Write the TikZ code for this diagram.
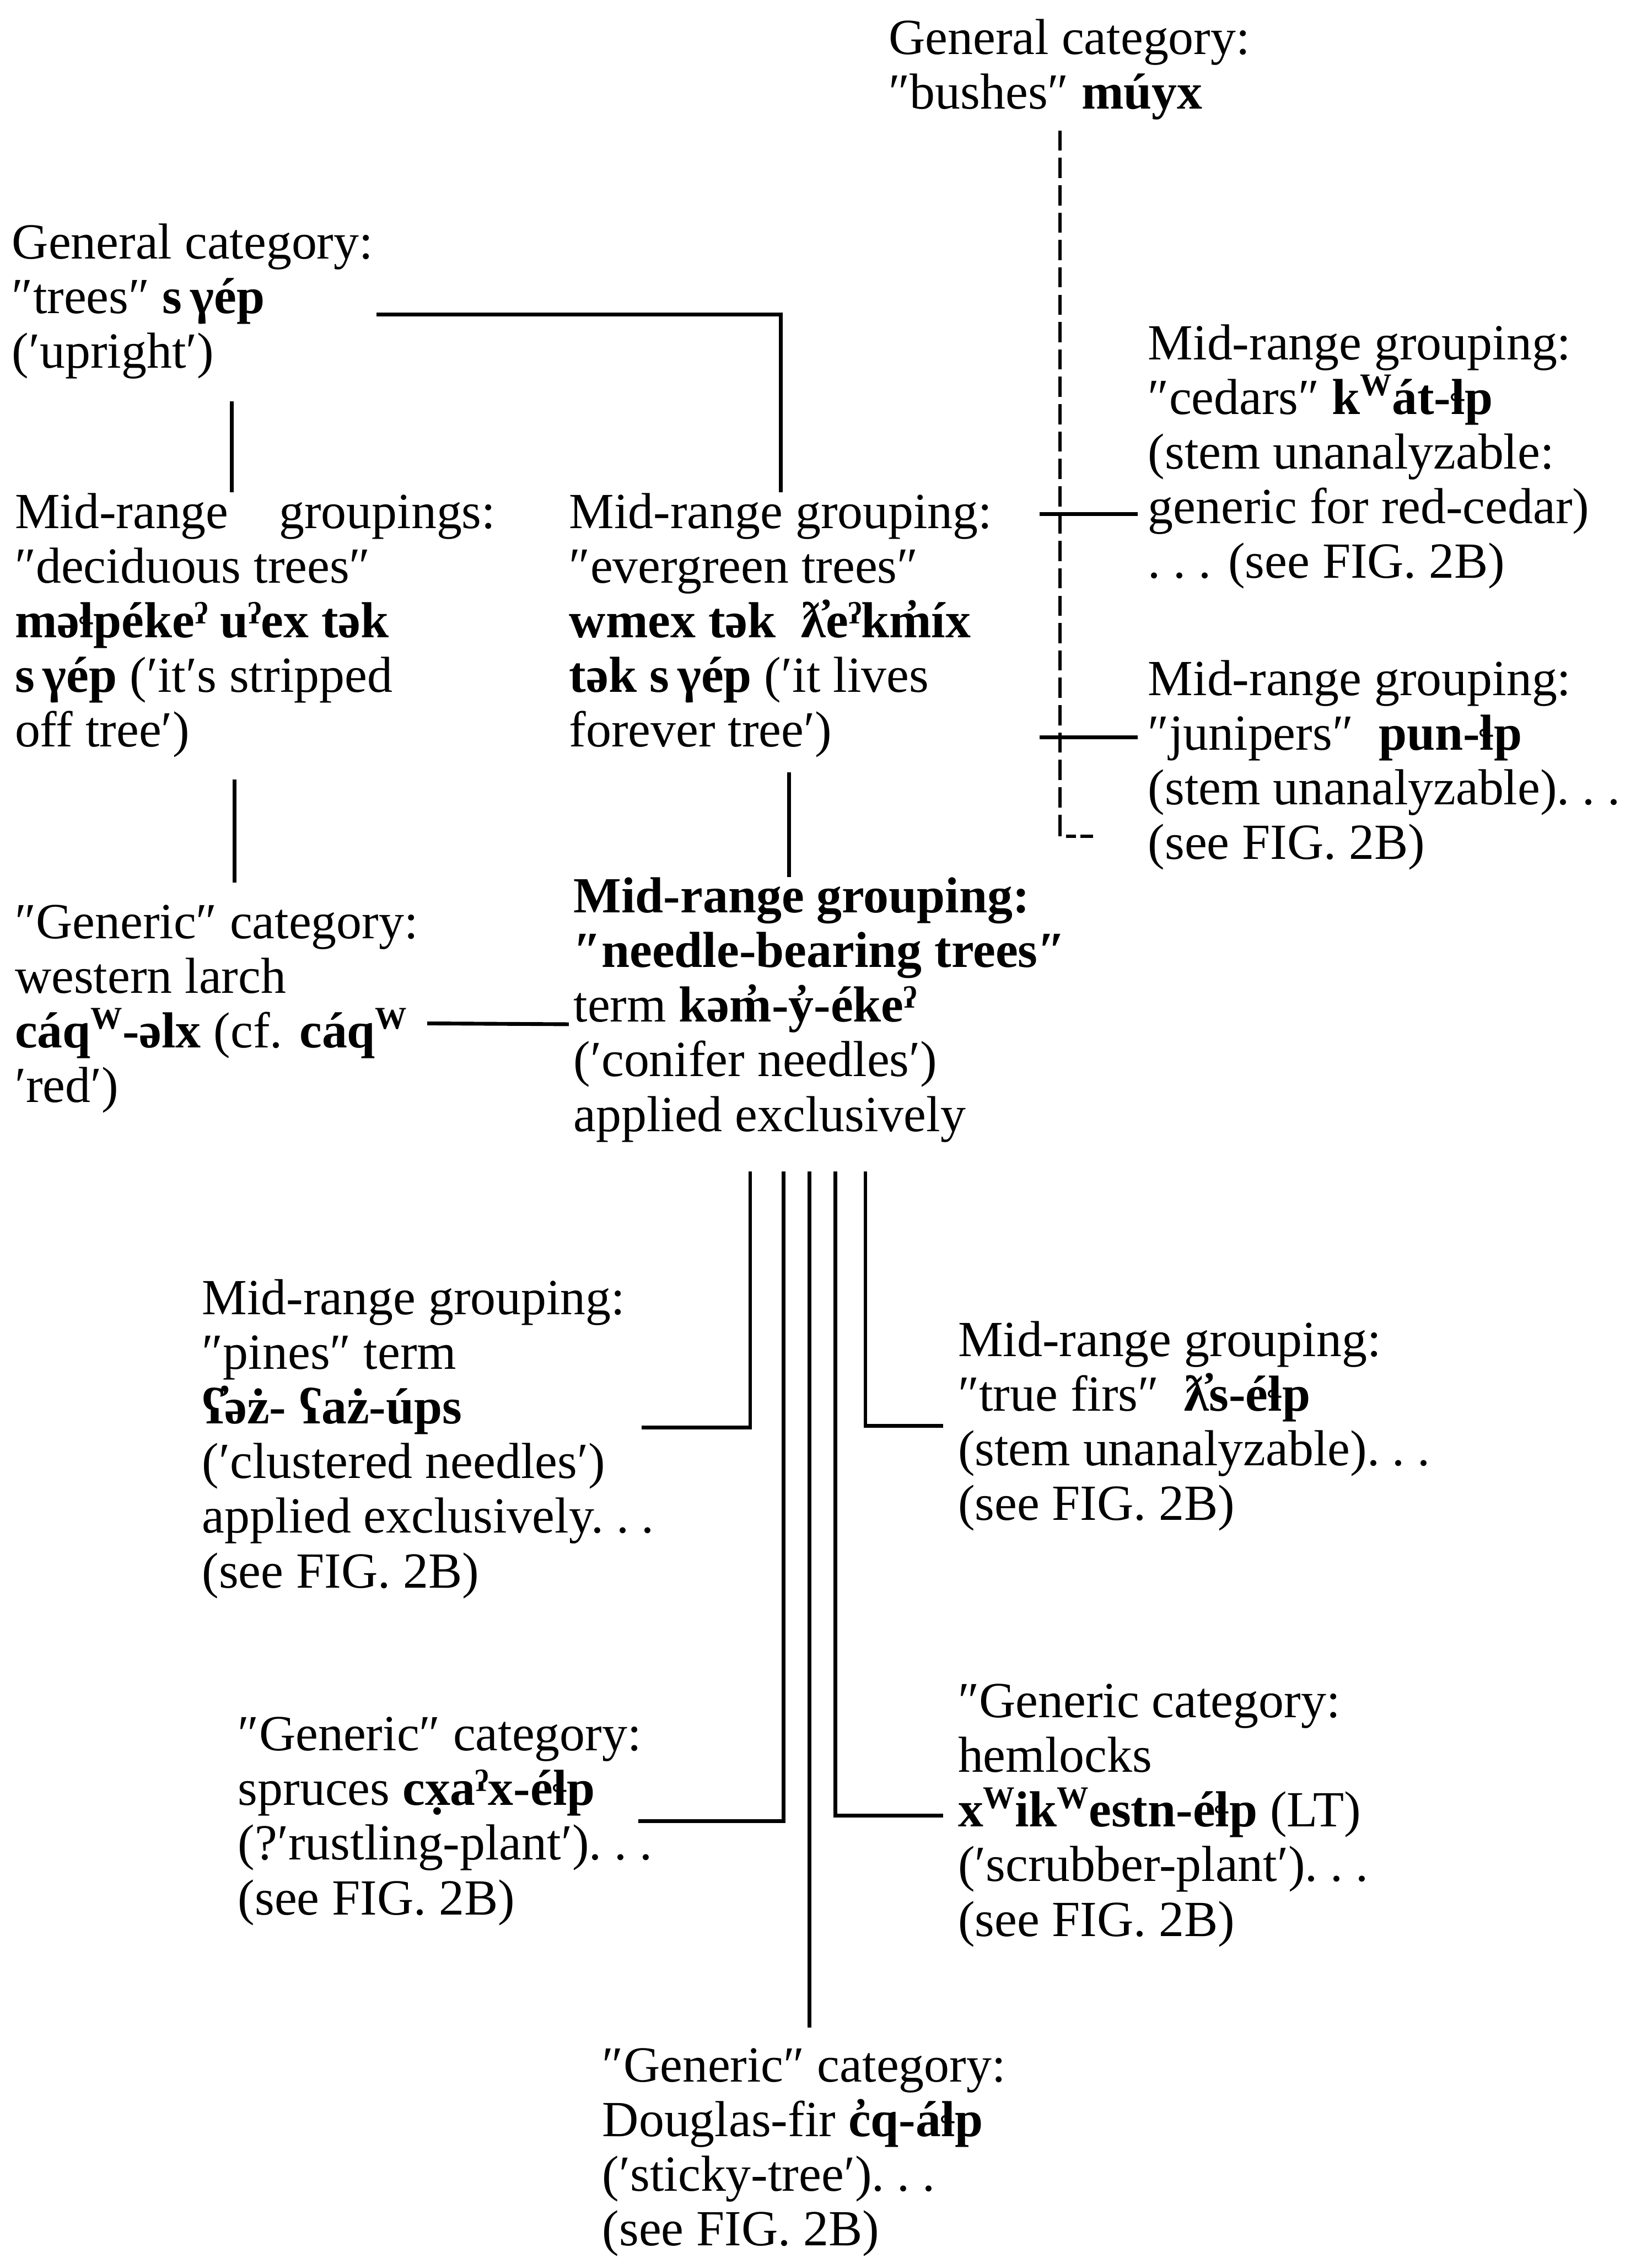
\documentclass[tikz,border=0pt]{standalone}
\usepackage{fontspec}
\setmainfont{Liberation Serif}
\newcommand\supW{\raisebox{0.8ex}{\fontsize{12.5}{12.5}\selectfont W}}
\begin{document}
\begin{tikzpicture}[txt/.style={anchor=north west,inner sep=0pt,align=left,font=\fontsize{20}{21.6}\selectfont},
	link/.style={line width=1.5pt},
	dlink/.style={line width=1.4pt,dash pattern=on 0.28cm off 0.1cm}]
		\useasboundingbox (0,0) rectangle (22.94,-31.36);

		\draw (12.34,-0.26) node (bush)[txt]{General category:\\ ″bushes″ \textbf{múyx}};
		\draw (0.16,-3.10) node (trees)[txt]{General category:\\ ″trees″ \textbf{s\,γép}\\ (′upright′)};
		\draw (0.20,-6.84) node (decid)[txt]{Mid-range\quad groupings:\\ ″deciduous trees″\\ \textbf{məɬpékeˀ uˀex tək}\\ \textbf{s\,γép} (′it′s stripped\\ off tree′)};
		\draw (7.90,-6.84) node (ever)[txt]{Mid-range grouping:\\ ″evergreen trees″\\ \textbf{wmex tək\enspace ƛ̓eˀkm̓íx}\\ \textbf{tək s\,γép} (′it lives\\ forever tree′)};
		\draw (15.94,-4.50) node (cedar)[txt]{Mid-range grouping:\\ ″cedars″ \textbf{k\supW át-ɬp}\\ (stem unanalyzable:\\ generic for red-cedar)\\ .~.~. (see FIG. 2B)};
		\draw (15.94,-9.16) node (junip)[txt]{Mid-range grouping:\\ ″junipers″\enspace\textbf{pun-ɬp}\\ (stem unanalyzable).~.~.\\ (see FIG. 2B)};
		\draw (0.20,-12.56) node (larch)[txt]{″Generic″ category:\\ western larch\\ \textbf{cáq\supW-əlx} (cf. \textbf{cáq\supW}\\ ′red′)};
		\draw (7.96,-12.18) node (needle)[txt]{\textbf{Mid-range grouping:}\\ \textbf{″needle-bearing trees″}\\ term \textbf{kəm̓-y̓-ékeˀ}\\ (′conifer needles′)\\ applied exclusively};
		\draw (2.80,-17.76) node (pine)[txt]{Mid-range grouping:\\ ″pines″ term\\ \textbf{ʕ̓əż- ʕaż-úps}\\ (′clustered needles′)\\ applied exclusively.~.~.\\ (see FIG. 2B)};
		\draw (13.30,-18.34) node (fir)[txt]{Mid-range grouping:\\ ″true firs″\enspace\textbf{ƛ̓s-éɬp}\\ (stem unanalyzable).~.~.\\ (see FIG. 2B)};
		\draw (3.30,-23.84) node (spruce)[txt]{″Generic″ category:\\ spruces \textbf{cx̣aˀx-éɬp}\\ (?′rustling-plant′).~.~.\\ (see FIG. 2B)};
		\draw (13.30,-23.38) node (hem)[txt]{″Generic category:\\ hemlocks\\ \textbf{x\supW ik\supW estn-éɬp} (LT)\\ (′scrubber-plant′).~.~.\\ (see FIG. 2B)};
		\draw (8.36,-28.44) node (doug)[txt]{″Generic″ category:\\ Douglas-fir \textbf{c̓q-áɬp}\\ (′sticky-tree′).~.~.\\ (see FIG. 2B)};

		% trees branch
		\draw[link] ([xshift=0.04cm,yshift=-0.18cm]trees.east) -| (ever.north);
		\path (trees.south west) ++(3.06,-0.3) coordinate (td);
		\draw[link] (td) -- (td |- decid.north);
		\path (decid.south west) ++(3.06,-0.3) coordinate (dl);
		\draw[link,shorten >=0.3cm] (dl) -- (dl |- larch.north);
		\path (ever.south west) ++(3.06,-0.2) coordinate (en);
		\draw[link] (en) -- (en |- needle.north);
		\draw[link] ([xshift=0.12cm,yshift=-0.2cm]larch.east) -- ([xshift=-0.06cm,yshift=-0.2cm]needle.west);

		% bushes branch
		\path (bush.south) ++(-0.13,-0.14) coordinate (bs);
		\path (bs) ++(0,-9.8) coordinate (bend);
		\path (bend) ++(0.46,0) coordinate (bendend);
		\draw[dlink] (bs) -- (bend);
		\draw[dlink,dash pattern=on 0.05cm off 0.08cm on 0.14cm off 0.06cm on 0.14cm off 0cm] ([yshift=0.05cm]bend) -- (bend) -- (bendend);
		\path (cedar.north west) ++(-1.5,-2.64) coordinate (cb);
		\draw[link,shorten >=0.14cm] (cb) -- (cb -| cedar.west);
		\path (junip.north west) ++(-1.5,-1.08) coordinate (jb);
		\draw[link,shorten >=0.14cm] (jb) -- (jb -| junip.west);

		% needle-bearing stems
		\path (needle.south west) ++(2.46,-0.4) coordinate (n1);
		\path (needle.south west) ++(2.92,-0.4) coordinate (n2);
		\path (needle.south west) ++(3.28,-0.4) coordinate (n3);
		\path (needle.south west) ++(3.64,-0.4) coordinate (n4);
		\path (needle.south west) ++(4.06,-0.4) coordinate (n5);
		\draw[link,shorten >=-0.18cm] (n1) |- ([yshift=0.16cm]pine.east);
		\draw[link,shorten >=0.2cm] (n5) |- (fir.west);
		\draw[link,shorten >=-0.2cm] (n2) |- (spruce.east);
		\draw[link,shorten >=0.2cm] (n4) |- (hem.west);
		\draw[link,shorten >=0.28cm] (n3) -- (n3 |- doug.north);
	\end{tikzpicture}
\end{document}
